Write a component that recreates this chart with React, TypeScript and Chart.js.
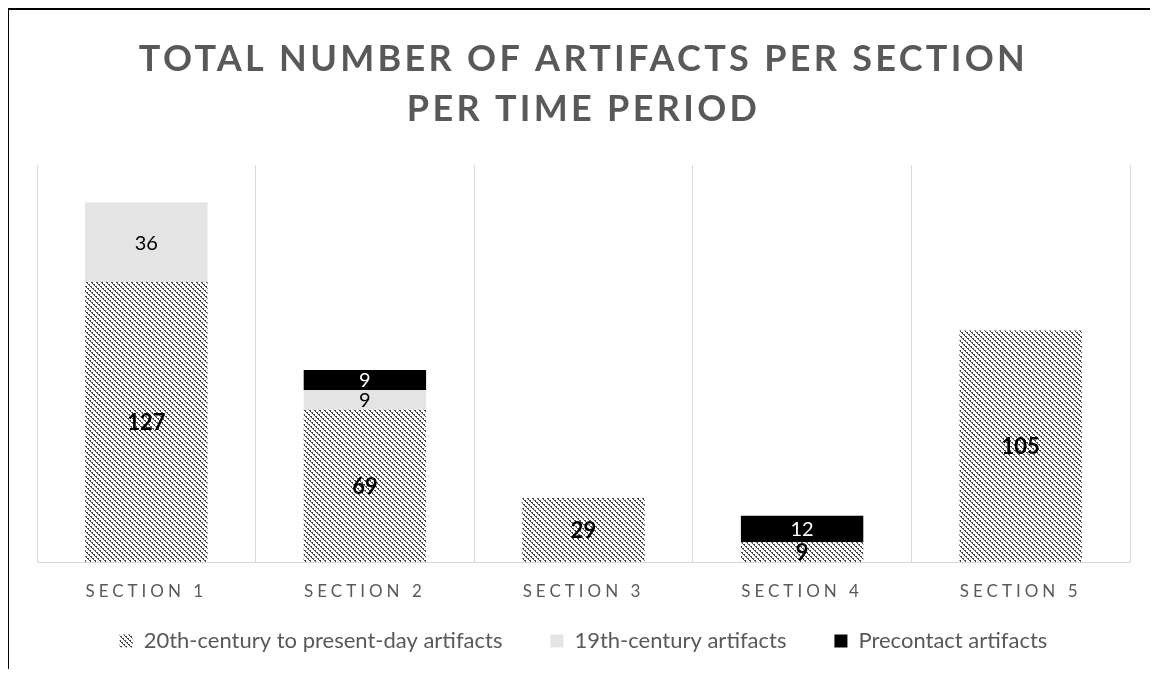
import React, { useEffect, useRef } from "react";
import { Chart, registerables } from "chart.js";

Chart.register(...registerables);

const categories = ["SECTION 1", "SECTION 2", "SECTION 3", "SECTION 4", "SECTION 5"];
const seriesNames = [
  "20th-century to present-day artifacts",
  "19th-century artifacts",
  "Precontact artifacts",
];
const modernValues = [127, 69, 29, 9, 105];
const c19Values = [36, 9, null, null, null];
const precontactValues = [null, 9, null, 12, null];
const titleLines = ["TOTAL NUMBER OF ARTIFACTS PER SECTION", "PER TIME PERIOD"];

const FONT = "Lato, 'Open Sans', sans-serif";
const TEXT_GRAY = "#595959";

function makeHatch(): CanvasPattern | string {
  const c = document.createElement("canvas");
  c.width = 10;
  c.height = 10;
  const g = c.getContext("2d");
  if (!g) return "#777";
  g.fillStyle = "#ffffff";
  g.fillRect(0, 0, 10, 10);
  g.fillStyle = "#454545";
  for (let y = 0; y < 10; y++) {
    for (let x = 0; x < 10; x++) {
      const d = (((x - y) % 5) + 5) % 5;
      if (d === 0 || (d === 1 && y % 2 === 0)) g.fillRect(x, y, 1, 1);
    }
  }
  const p = g.createPattern(c, "repeat");
  return p || "#777";
}

const spacingPlugin = {
  id: "letterSpacingWrap",
  beforeDraw(chart: any) {
    const ctx = chart.ctx as any;
    ctx.letterSpacing = "0px";
    const t = chart.titleBlock;
    if (t && !t.__wrapped) {
      const orig = t.draw.bind(t);
      t.draw = (...a: any[]) => {
        ctx.save();
        ctx.letterSpacing = "3.3px";
        orig(...a);
        ctx.restore();
      };
      t.__wrapped = true;
    }
    const x = chart.scales.x;
    if (x && !x.__wrapped) {
      const orig = x.drawLabels.bind(x);
      x._computeLabelArea = () => undefined;
      x.drawLabels = (...a: any[]) => {
        ctx.save();
        ctx.letterSpacing = "4px";
        orig(...a);
        ctx.restore();
      };
      x.__wrapped = true;
    }
  },
};

const labelStyles = [
  { font: `bold 22px ${FONT}`, color: "#000000" },
  { font: `20px ${FONT}`, color: "#000000" },
  { font: `20px ${FONT}`, color: "#ffffff" },
];

const dataLabelPlugin = {
  id: "segmentLabels",
  afterDatasetsDraw(chart: any) {
    const ctx = chart.ctx as any;
    chart.data.datasets.forEach((ds: any, i: number) => {
      const meta = chart.getDatasetMeta(i);
      meta.data.forEach((el: any, j: number) => {
        const v = ds.data[j];
        if (v == null) return;
        const { x, y, base } = el.getProps(["x", "y", "base"], true);
        ctx.save();
        ctx.letterSpacing = "0px";
        ctx.font = labelStyles[i].font;
        ctx.fillStyle = labelStyles[i].color;
        ctx.textAlign = "center";
        ctx.textBaseline = "middle";
        ctx.fillText(String(v), x, (y + base) / 2 + 1);
        ctx.restore();
      });
    });
  },
};

export default function App() {
  const ref = useRef<HTMLCanvasElement | null>(null);

  useEffect(() => {
    if (!ref.current) return;
    const hatch = makeHatch();
    const chart = new Chart(ref.current, {
      type: "bar",
      data: {
        labels: categories,
        datasets: [
          { label: seriesNames[0], data: modernValues, backgroundColor: hatch as any, borderWidth: 0 },
          { label: seriesNames[1], data: c19Values, backgroundColor: "#e4e4e4", borderWidth: 0 },
          { label: seriesNames[2], data: precontactValues, backgroundColor: "#000000", borderWidth: 0 },
        ],
      },
      options: {
        animation: false,
        responsive: true,
        maintainAspectRatio: false,
        layout: { padding: { left: 28, right: 20, top: 0, bottom: 7 } },
        datasets: { bar: { barPercentage: 0.56, categoryPercentage: 1 } },
        scales: {
          x: {
            stacked: true,
            grid: { display: true, color: "#d9d9d9", lineWidth: 1, drawTicks: false, offset: true },
            border: { display: true, color: "#d9d9d9", width: 1 },
            ticks: {
              color: TEXT_GRAY,
              font: { family: FONT, size: 17 },
              padding: 19,
              autoSkip: false,
              maxRotation: 0,
            },
            afterFit: (scale: any) => {
              scale.height = 20;
            },
          },
          y: {
            stacked: true,
            display: false,
            min: 0,
            max: 180,
          },
        },
        plugins: {
          title: {
            display: true,
            text: titleLines,
            color: TEXT_GRAY,
            font: { family: FONT, size: 36, weight: "bold", lineHeight: 50 / 36 },
            padding: { top: 24, bottom: 31 },
          },
          legend: {
            display: true,
            position: "bottom",
            labels: {
              color: TEXT_GRAY,
              font: { family: FONT, size: 22 },
              boxWidth: 13,
              boxHeight: 13,
              padding: 48,
            },
          },
          tooltip: { enabled: false },
        },
      },
      plugins: [spacingPlugin, dataLabelPlugin],
    });
    return () => chart.destroy();
  }, []);

  return (
    <div
      style={{
        marginLeft: -1,
        borderLeft: "2px solid #000",
        borderTop: "2px solid #000",
        height: 659,
        position: "relative",
        background: "#fff",
      }}
    >
      <canvas ref={ref} />
    </div>
  );
}
